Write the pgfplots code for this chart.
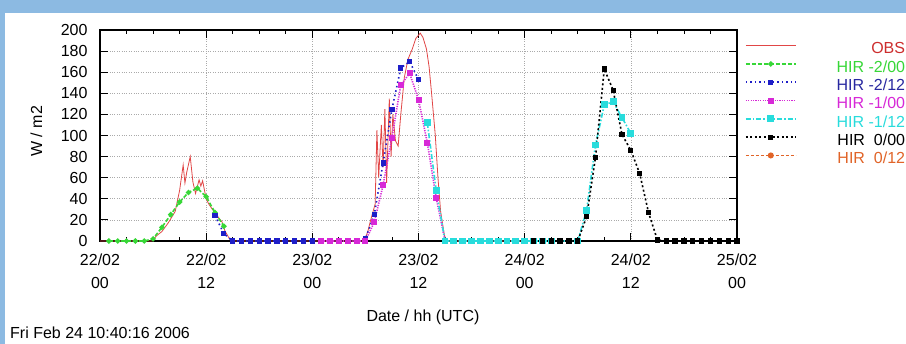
\documentclass[border=0pt]{standalone}
\usepackage{fontspec}
\setmainfont{Liberation Sans}
\usepackage{pgfplots}
\pgfplotsset{compat=1.18}
\usepackage{pgfplotstable}

\definecolor{bgblue}{RGB}{140,186,226}
\definecolor{obsred}{RGB}{225,70,70}
\definecolor{obstxt}{RGB}{205,45,45}
\definecolor{hgreen}{RGB}{55,215,55}
\definecolor{hblue}{RGB}{30,30,200}
\definecolor{hbluetxt}{RGB}{40,40,160}
\definecolor{hmag}{RGB}{215,40,215}
\definecolor{hcyan}{RGB}{40,220,220}
\definecolor{horange}{RGB}{225,100,40}
\definecolor{gridgray}{RGB}{170,170,170}

\newcommand{\tl}[2]{\def\arraystretch{1.21}\begin{tabular}{@{}c@{}}#1\\#2\end{tabular}}

\pgfplotstableread{
h y
0 0
3 0
5.9 0
6.4 5
7.0 9
7.7 17
8.5 28
8.8 40
9.0 48
9.4 72
9.6 55
9.8 65
10.2 80
10.5 56
10.8 45
11.2 58
11.4 52
11.6 57
12.0 40
12.3 35
12.7 30
13.0 27
13.4 22
13.8 18
14.1 10
14.5 4
14.8 0
20 0
25 0
29.9 0
30.3 10
30.6 20
31.1 35
31.3 105
31.5 60
31.8 110
32.0 70
32.2 125
32.4 55
32.7 135
32.9 80
33.1 120
33.4 95
33.7 90
34.0 120
34.4 155
34.8 172
35.3 182
35.7 192
36.2 197
36.5 193
36.9 182
37.2 165
37.5 138
37.9 100
38.2 60
38.5 28
38.9 7
39.1 0
44 0
48 0
}\obs

\pgfplotstableread{
h y
1 0
2 0
3 0
4 0
5 0
6 2
7 13
8 25
9 37
10 46
11 50
12 42
13 27
14 14
}\gtwo

\pgfplotstableread{
h y
13 24
14 7
15 0
16 0
17 0
18 0
19 0
20 0
21 0
22 0
23 0
24 0
25 0
26 0
27 0
28 0
29 0
30 2
31 25
32 74
33 125
34 164
35 170
36 153
}\btwo

\pgfplotstableread{
h y
25 0
26 0
27 0
28 0
29 0
30 0
31 18
32 53
33 98
34 148
35 159
36 134
37 93
38 41
39 0
}\mone

\pgfplotstableread{
h y
37 112
38 48
39 0
40 0
41 0
42 0
43 0
44 0
45 0
46 0
47 0
48 0
49 0
50 0
51 0
52 0
53 0
54 0
55 29
56 91
57 129
58 132
59 117
60 102
}\cone

\pgfplotstableread{
h y
49 0
50 0
51 0
52 0
53 0
54 0
55 23
56 79
57 163
58 143
59 101
60 86
61 64
62 27
63 1
64 0
65 0
66 0
67 0
68 0
69 0
70 0
71 0
72 0
}\kzero

\begin{document}
\fontsize{16}{19}\selectfont
\begin{tikzpicture}[x=1pt,y=1pt]
\fill[bgblue] (0,0) rectangle (906,344);
\fill[white] (5,0) rectangle (906,331);
\begin{axis}[
  at={(100pt,103pt)}, anchor=south west,
  scale only axis, width=637pt, height=211pt,
  xmin=0, xmax=72, ymin=0, ymax=200,
  clip=false,
  xtick={0,12,...,72},
  xticklabels={{\tl{22/02}{00}},{\tl{22/02}{12}},{\tl{23/02}{00}},{\tl{23/02}{12}},{\tl{24/02}{00}},{\tl{24/02}{12}},{\tl{25/02}{00}}},
  xticklabel style={yshift=-3pt},
  minor x tick num=3,
  ytick={0,20,...,200},
  yticklabel style={xshift=-7pt},
  /pgf/number format/assume math mode=true,
  tick align=inside,
  major tick length=8pt, minor tick length=4pt,
  tick style={black, line width=0.8pt},
  axis line style={line width=1.1pt},
  xmajorgrids, ymajorgrids,
  major grid style={gridgray, dotted, line width=0.6pt},
  xlabel={Date / hh (UTC)},
  ylabel={W / m2},
  every axis x label/.style={at={(axis description cs:0.507,0)}, yshift=-76pt, anchor=center},
  every axis y label/.style={at={(axis description cs:-0.1,0.52)}, rotate=90, anchor=center},
  legend cell align=right,
  legend style={at={(axis description cs:1,1)}, anchor=north west, xshift=8pt, yshift=-12pt,
    draw=none, fill=none, inner sep=0pt, outer sep=0pt, column sep=40pt,
    nodes={inner sep=0pt, text height=12pt, text depth=6.3pt, font=\fontsize{16}{19}\selectfont}},
  legend image code/.code={\draw[mark repeat=2,mark phase=2,#1] plot coordinates {(0pt,5.5pt) (25pt,5.5pt) (50pt,5.5pt)};},
]
\addplot[obsred, line width=0.8pt] table[x=h,y=y] {\obs};
\addlegendentry{\textcolor{obstxt}{OBS}}
\addplot[hgreen, line width=1.6pt, dash pattern=on 4pt off 2pt, mark=*, mark size=1.8pt, mark options={solid}] table[x=h,y=y] {\gtwo};
\addlegendentry{\textcolor{hgreen}{HIR -2/00}}
\addplot[hblue, line width=1.6pt, dash pattern=on 1.5pt off 3pt, mark=square*, mark size=1.8pt, mark options={solid}] table[x=h,y=y] {\btwo};
\addlegendentry{\textcolor{hbluetxt}{HIR -2/12}}
\addplot[hmag, line width=1.6pt, dash pattern=on 1.2pt off 1.2pt, mark=square*, mark size=2.2pt, mark options={solid}] table[x=h,y=y] {\mone};
\addlegendentry{\textcolor{hmag}{HIR -1/00}}
\addplot[hcyan, line width=1.6pt, dash pattern=on 5pt off 2pt on 1.5pt off 2pt, mark=square*, mark size=2.6pt, mark options={solid}] table[x=h,y=y] {\cone};
\addlegendentry{\textcolor{hcyan}{HIR -1/12}}
\addplot[black, line width=1.6pt, dash pattern=on 2pt off 2.5pt, mark=square*, mark size=1.8pt, mark options={solid}] table[x=h,y=y] {\kzero};
\addlegendentry{\textcolor{black}{HIR\ \ 0/00}}
\addlegendimage{horange, line width=1.6pt, dash pattern=on 3pt off 2pt, mark=*, mark size=2.2pt, mark options={solid}}
\addlegendentry{\textcolor{horange}{HIR\ \ 0/12}}
\end{axis}
\node[anchor=base west, inner sep=0pt] at (10,5) {Fri Feb 24 10:40:16 2006};
\end{tikzpicture}
\end{document}
